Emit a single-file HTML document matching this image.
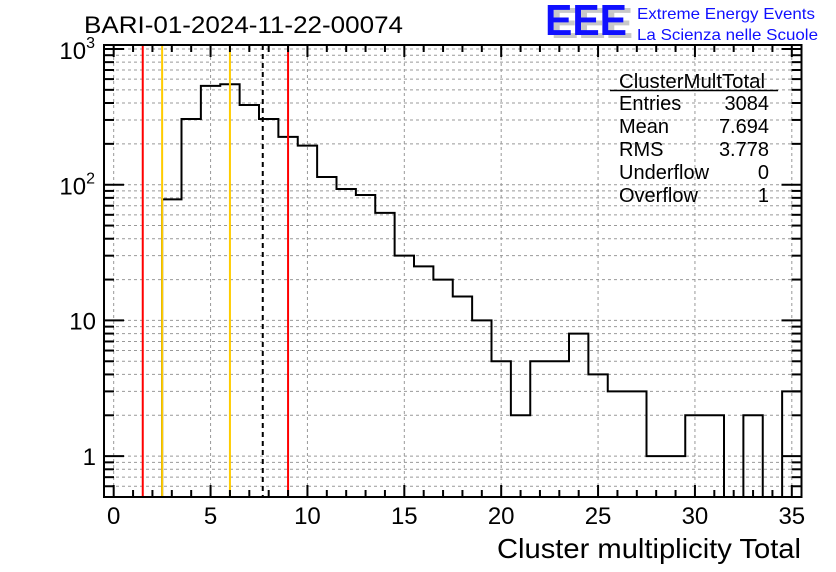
<!DOCTYPE html>
<html><head><meta charset="utf-8"><style>
body{margin:0;background:#fff;}
svg{display:block;font-family:"Liberation Sans",sans-serif;}
</style></head><body>
<svg id="chart" width="836" height="572">
<g>
<text x="551" y="38" font-size="44" font-weight="bold" fill="#c8c8c8" textLength="82" lengthAdjust="spacingAndGlyphs">EEE</text>
<text x="545" y="35" font-size="44" font-weight="bold" fill="#1010ff" textLength="82" lengthAdjust="spacingAndGlyphs">EEE</text>
<text x="637" y="19" font-size="16" fill="#1010ff" textLength="178" lengthAdjust="spacingAndGlyphs">Extreme Energy Events</text>
<text x="637" y="40" font-size="16" fill="#1010ff" textLength="181" lengthAdjust="spacingAndGlyphs">La Scienza nelle Scuole</text>
</g>
<text x="84" y="33" font-size="24" textLength="319" lengthAdjust="spacingAndGlyphs">BARI-01-2024-11-22-00074</text>
<g id="grid"></g>
<g id="marks"></g>
<g id="axes"></g>
<g font-size="20">
<text x="692" y="88" text-anchor="middle" textLength="146" lengthAdjust="spacingAndGlyphs">ClusterMultTotal</text>
<line x1="610" y1="90.5" x2="778" y2="90.5" stroke="#000" stroke-width="1.5"/>
<text x="619" y="110">Entries</text><text x="769" y="110" text-anchor="end">3084</text>
<text x="619" y="133">Mean</text><text x="769" y="133" text-anchor="end">7.694</text>
<text x="619" y="156">RMS</text><text x="769" y="156" text-anchor="end">3.778</text>
<text x="619" y="179">Underflow</text><text x="769" y="179" text-anchor="end">0</text>
<text x="619" y="202">Overflow</text><text x="769" y="202" text-anchor="end">1</text>
</g>
<text x="801" y="558" font-size="28" text-anchor="end" textLength="304" lengthAdjust="spacingAndGlyphs">Cluster multiplicity Total</text>
</svg>
<script>
const binCenters=[0,1,2,3,4,5,6,7,8,9,10,11,12,13,14,15,16,17,18,19,20,21,22,23,24,25,26,27,28,29,30,31,32,33,34,35];
const counts=[0,0,0,78,305,535,550,387,305,225,194,114,93,84,62,30,25,20,15,10,5,2,5,5,8,4,3,3,1,1,2,2,0,2,0,3];
const xTicks=[0,5,10,15,20,25,30,35];
const yDecades=[1,10,100,1000];
const yDecadeLabels=["1","10","10²","10³"];
const markerLines=[{v:1.5,c:"#ff0000",d:""},{v:2.5,c:"#ffcc00",d:""},{v:6.0,c:"#ffcc00",d:""},{v:7.694,c:"#000",d:"5,4"},{v:9.0,c:"#ff0000",d:""}];
const L=104,R=801.5,T=45,B=497,xmin=-0.5,xmax=35.5,ymin=0.5,ymax=1070;
const X=v=>L+(v-xmin)/(xmax-xmin)*(R-L);
const Y=v=>B-(Math.log10(Math.max(v,ymin))-Math.log10(ymin))/(Math.log10(ymax)-Math.log10(ymin))*(B-T);
const NS="http://www.w3.org/2000/svg";
function mk(tag,at,parent){const e=document.createElementNS(NS,tag);for(const k in at)e.setAttribute(k,at[k]);parent.appendChild(e);return e;}
const grid=document.getElementById('grid'),marks=document.getElementById('marks'),axes=document.getElementById('axes');
const yMinor=[];for(let d=0.1;d<=1000;d*=10){for(let m=1;m<10;m++){const v=+(d*m).toPrecision(3);if(v>=ymin&&v<=ymax)yMinor.push(v);}}
yMinor.forEach(v=>{const l=mk('line',{x1:L,x2:R,y1:Y(v),y2:Y(v),stroke:'#999','stroke-dasharray':'3,3','stroke-width':1},grid);

});
xTicks.forEach(v=>{const l=mk('line',{x1:X(v),x2:X(v),y1:T,y2:B,stroke:'#999','stroke-dasharray':'3,3','stroke-width':1},grid);

});
let d='';binCenters.forEach((c,i)=>{const y=counts[i]>0?Y(counts[i]):B;const x0=X(c-0.5),x1=X(c+0.5);d+=(i===0?'M':'L')+x0+','+y+'L'+x1+','+y;});
const h=mk('path',{d:d,fill:'none',stroke:'#000','stroke-width':2},marks);


markerLines.forEach(m=>{const l=mk('line',{x1:X(m.v),x2:X(m.v),y1:T,y2:B,stroke:m.c,'stroke-width':2,'stroke-dasharray':m.d},marks);

});
const f=mk('rect',{x:L,y:T,width:R-L,height:B-T,fill:'none',stroke:'#000','stroke-width':2},axes);


for(let v=0;v<=35;v++){const len=v%5===0?12:7;
mk('line',{x1:X(v),x2:X(v),y1:B,y2:B-len,stroke:'#000','stroke-width':2},axes);
mk('line',{x1:X(v),x2:X(v),y1:T,y2:T+len,stroke:'#000','stroke-width':2},axes);}
xTicks.forEach(v=>{const t=mk('text',{x:X(v),y:524,'font-size':24,'text-anchor':'middle'},axes);t.textContent=v;

});
yMinor.forEach(v=>{const maj=yDecades.includes(v);const len=maj?20:10;
mk('line',{x1:L,x2:L+len,y1:Y(v),y2:Y(v),stroke:'#000','stroke-width':2},axes);
mk('line',{x1:R,x2:R-len,y1:Y(v),y2:Y(v),stroke:'#000','stroke-width':2},axes);});
yDecades.forEach((v,i)=>{const s=yDecadeLabels[i];let t;
if(s.length>2){t=mk('text',{x:95,y:Y(v)+10,'font-size':24,'text-anchor':'end'},axes);
t.innerHTML='10<tspan font-size="16" dy="-11">'+(v===100?'2':'3')+'</tspan>';}
else{t=mk('text',{x:96,y:Y(v)+9,'font-size':24,'text-anchor':'end'},axes);t.textContent=s;}

});
</script>
</body></html>
